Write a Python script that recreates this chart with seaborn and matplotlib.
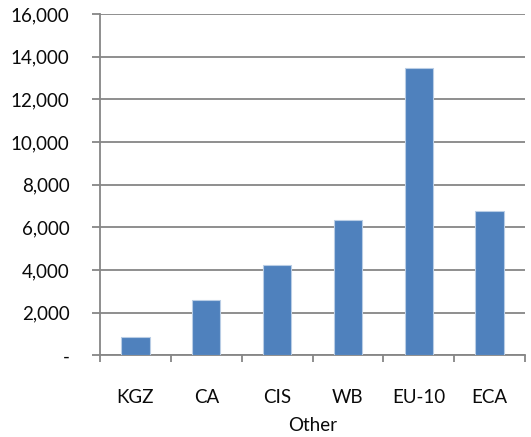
import matplotlib
matplotlib.use("Agg")
import matplotlib.pyplot as plt
import matplotlib.ticker as mticker
import numpy as np
import pandas as pd
import seaborn as sns

regions = ["KGZ", "CA", "CIS", "WB", "EU-10", "ECA"]
values = [850, 2580, 4230, 6330, 13450, 6780]
y_ticks = [0, 2000, 4000, 6000, 8000, 10000, 12000, 14000, 16000]
x_title = "Other"

df = pd.DataFrame({"region": regions, "value": values})

sns.set_theme(style="white")
plt.rcParams["font.family"] = ["Lato", "DejaVu Sans"]

grid_color = "#868686"
bar_color = "#4F81BD"
text_color = "#0a0a0a"
fs = 13.5

fig = plt.figure(figsize=(5.31, 4.37), dpi=100)
ax = fig.add_axes([0.1883, 0.187, 0.8005, 0.781])

sns.barplot(data=df, x="region", y="value", color=bar_color, width=0.4,
            saturation=1, edgecolor="#B9CDE5", linewidth=0.8, ax=ax, zorder=3)

ax.set_ylim(0, 16000)
ax.set_xlim(-0.5, len(regions) - 0.5)
ax.set_yticks(y_ticks)
ax.yaxis.set_major_formatter(mticker.FuncFormatter(
    lambda v, p: "-" if v == 0 else f"{int(v):,}"))
ax.yaxis.grid(True, color=grid_color, linewidth=1.3, zorder=0)
ax.set_axisbelow(True)

# category separators as minor ticks, labels centered under bars
ax.set_xticks(np.arange(-0.5, len(regions)), minor=True)
ax.tick_params(axis="x", which="major", length=0, pad=24, labelsize=fs,
               labelcolor=text_color)
ax.tick_params(axis="x", which="minor", length=5, width=1.3, color=grid_color,
               direction="out", bottom=True)
ax.tick_params(axis="y", which="major", length=6, width=1.3, color=grid_color,
               left=True, direction="out", labelsize=fs, labelcolor=text_color,
               pad=16)
for lbl in ax.get_yticklabels():
    lbl.set_horizontalalignment("right")

for side in ["top", "right"]:
    ax.spines[side].set_visible(False)
for side in ["left", "bottom"]:
    ax.spines[side].set_color(grid_color)
    ax.spines[side].set_linewidth(1.3)

ax.set_xlabel(x_title, fontsize=fs, color=text_color, labelpad=8)
ax.set_ylabel("")

fig.savefig("out.png", dpi=100)
